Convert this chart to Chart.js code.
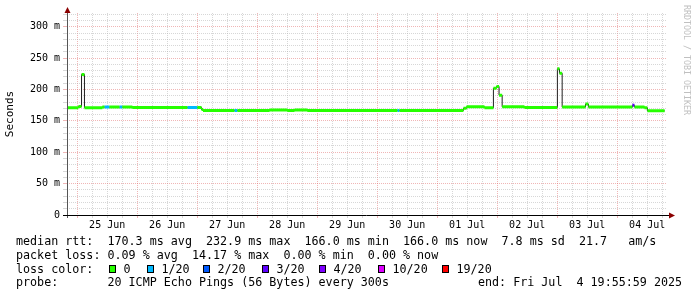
<!DOCTYPE html>
<html>
<head>
<meta charset="utf-8">
<script src="https://cdn.jsdelivr.net/npm/chart.js@4"></script>
<style>
  body { margin: 0; background: #fff; }
  canvas { display: block; }
</style>
</head>
<body>
<canvas id="pingChart" width="697" height="297"></canvas>
<script>
// بداية كل قطعة من الخط (شهر-يوم ساعة:دقيقة)
const segStart = [
    '06-24 19:56', '06-25 00:30', '06-25 01:45', '06-25 02:55', '06-25 10:05',
    '06-25 10:55', '06-25 12:55', '06-25 16:55', '06-25 18:05', '06-25 22:05',
    '06-26 20:05', '06-27 00:05', '06-27 01:45', '06-27 02:20', '06-27 14:55',
    '06-27 16:05', '06-28 04:55', '06-28 12:05', '06-28 14:55', '06-28 20:05',
    '06-30 08:05', '06-30 08:55', '07-01 10:30', '07-01 11:45', '07-01 18:55',
    '07-01 22:30', '07-01 23:45', '07-02 00:45', '07-02 02:00', '07-02 10:55',
    '07-03 00:05', '07-03 00:55', '07-03 02:00', '07-03 11:20', '07-03 12:30',
    '07-04 06:05', '07-04 06:55', '07-04 10:55', '07-04 12:05'
];
const segEnd = '07-04 19:00';

// الوسيط بالميلي ثانية
const medianMs = [
    171, 173, 224, 171, 172,
    172, 172, 172, 172, 171.5,
    171.5, 171.5, 168, 166.5, 166.5,
    166.5, 167.5, 166.5, 167.5, 166.5,
    166.5, 166.5, 170, 172.5, 171,
    202, 205, 191, 172.5, 171.5,
    233, 226, 172, 177, 172,
    175, 172, 171, 166
];

// عدد الحزم المفقودة من 20
const lostPings = [
    0, 0, 0, 0, 0,
    1, 0, 1, 0, 0,
    1, 0, 0, 0, 1,
    0, 0, 0, 0, 0,
    1, 0, 0, 0, 0,
    0, 0, 0, 0, 0,
    0, 0, 0, 0, 0,
    3, 0, 0, 0
];

const lossSteps = [0, 1, 2, 3, 4, 10, 19];
const lossLabels = ['0', '1/20', '2/20', '3/20', '4/20', '10/20', '19/20'];
const lossColors = ['#26ff00', '#00b8ff', '#0059ff', '#5e00ff', '#7e00ff', '#dd00ff', '#ff0000'];

const dayLabels = ['25 Jun', '26 Jun', '27 Jun', '28 Jun', '29 Jun', '30 Jun', '01 Jul', '02 Jul', '03 Jul', '04 Jul'];
const rangeStart = '06-24 19:56';
const rangeEnd = '07-04 19:56';
const yMaxMs = 322;

const legendLines = [
    'median rtt:  170.3 ms avg  232.9 ms max  166.0 ms min  166.0 ms now  7.8 ms sd  21.7   am/s',
    'packet loss: 0.09 % avg  14.17 % max  0.00 % min  0.00 % now'
];
const probeText = 'probe:       20 ICMP Echo Pings (56 Bytes) every 300s';
const endText = 'end: Fri Jul  4 19:55:59 2025';

const MONO = '"DejaVu Sans Mono", monospace';

// تحويل التاريخ إلى ساعات منذ منتصف ليل 25 يونيو
function toHours(s) {
    const [md, hm] = s.split(' ');
    const [mo, d] = md.split('-').map(Number);
    const [h, m] = hm.split(':').map(Number);
    const day = mo === 6 ? d - 25 : d + 5;
    return day * 24 + h + m / 60;
}

function bucketOf(lost) {
    let b = 0;
    lossSteps.forEach((s, i) => { if (lost >= s) b = i; });
    return b;
}

// الخط الداكن المتدرج
const stepPoints = segStart.map((t, i) => ({ x: toHours(t), y: medianMs[i] }));
stepPoints.push({ x: toHours(segEnd), y: medianMs[medianMs.length - 1] });

// قطع أفقية ملونة حسب الفقد
const colorSets = lossColors.map(() => []);
segStart.forEach((t, i) => {
    const x0 = toHours(t);
    const x1 = i + 1 < segStart.length ? toHours(segStart[i + 1]) : toHours(segEnd);
    const set = colorSets[bucketOf(lostPings[i])];
    set.push({ x: x0, y: medianMs[i] }, { x: x1, y: medianMs[i] }, { x: x1, y: null });
});

const datasets = [{
    data: stepPoints,
    borderColor: '#202020',
    borderWidth: 1,
    stepped: 'before',
    pointRadius: 0,
    order: 5
}];
colorSets.forEach((set, i) => {
    datasets.push({
        data: set,
        borderColor: lossColors[i],
        borderWidth: 3,
        borderCapStyle: 'butt',
        pointRadius: 0,
        spanGaps: false,
        order: 1
    });
});

const GRID_MINOR = 'rgba(175,175,175,0.5)';
const GRID_MAJOR = 'rgba(225,110,110,0.5)';

// رسم المحاور والنصوص
const decorPlugin = {
    id: 'decor',
    afterDraw(chart) {
        const ctx = chart.ctx;
        const a = chart.chartArea;
        ctx.save();
        // المحاور
        ctx.lineWidth = 1;
        ctx.strokeStyle = '#555';
        ctx.beginPath();
        ctx.moveTo(a.left + 0.5, 11);
        ctx.lineTo(a.left + 0.5, a.bottom + 3);
        ctx.stroke();
        ctx.strokeStyle = '#000';
        ctx.beginPath();
        ctx.moveTo(a.left - 4, a.bottom + 0.5);
        ctx.lineTo(a.right + 3, a.bottom + 0.5);
        ctx.stroke();
        ctx.fillStyle = '#8b0000';
        ctx.beginPath();
        ctx.moveTo(a.left + 0.5, 7);
        ctx.lineTo(a.left - 2.5, 13);
        ctx.lineTo(a.left + 3.5, 13);
        ctx.closePath();
        ctx.fill();
        ctx.beginPath();
        ctx.moveTo(a.right + 8, a.bottom + 0.5);
        ctx.lineTo(a.right + 2, a.bottom - 2.5);
        ctx.lineTo(a.right + 2, a.bottom + 3.5);
        ctx.closePath();
        ctx.fill();

        // عنوان المحور
        ctx.fillStyle = '#000';
        ctx.font = '11px ' + MONO;
        ctx.textAlign = 'center';
        ctx.textBaseline = 'middle';
        ctx.save();
        ctx.translate(10, 114);
        ctx.rotate(-Math.PI / 2);
        ctx.fillText('Seconds', 0, 0);
        ctx.restore();

        // العلامة المائية
        ctx.save();
        ctx.fillStyle = '#c0c0c0';
        ctx.font = '8.3px ' + MONO;
        ctx.textAlign = 'left';
        ctx.translate(686, 5);
        ctx.rotate(Math.PI / 2);
        ctx.fillText('RRDTOOL / TOBI OETIKER', 0, 0);
        ctx.restore();

        // وسيلة الإيضاح
        ctx.font = '11.7px ' + MONO;
        ctx.textAlign = 'left';
        ctx.fillStyle = '#000';
        ctx.fillText(legendLines[0], 16, 241.5);
        ctx.fillText(legendLines[1], 16, 255.5);
        ctx.fillText('loss color:', 16, 269.5);
        const boxX = [109, 147, 203, 262, 319, 378, 442];
        lossColors.forEach((c, i) => {
            ctx.fillStyle = c;
            ctx.fillRect(boxX[i], 265, 7, 8);
            ctx.strokeStyle = '#000';
            ctx.strokeRect(boxX[i] + 0.5, 265.5, 6, 7);
            ctx.fillStyle = '#000';
            ctx.fillText(lossLabels[i], boxX[i] + 14.5, 269.5);
        });
        ctx.fillText(probeText, 16, 283);
        ctx.fillText(endText, 478, 283);
        ctx.restore();
    }
};

const ctx = document.getElementById('pingChart').getContext('2d');
new Chart(ctx, {
    type: 'line',
    data: { datasets: datasets },
    options: {
        responsive: false,
        animation: false,
        devicePixelRatio: 1,
        layout: { padding: { top: 13, right: 30, left: 0, bottom: 0 } },
        plugins: { legend: { display: false }, tooltip: { enabled: false } },
        scales: {
            x: {
                type: 'linear',
                min: toHours(rangeStart),
                max: toHours(rangeEnd),
                afterBuildTicks: scale => {
                    const t = [];
                    for (let h = 0; h <= 234; h += 6) t.push({ value: h });
                    scale.ticks = t;
                },
                afterFit: scale => { scale.height = 82; },
                ticks: {
                    autoSkip: false,
                    maxRotation: 0,
                    padding: 1,
                    color: '#000',
                    font: { family: MONO, size: 10 },
                    callback: v => (v % 24 === 12 ? dayLabels[(v - 12) / 24] : '')
                },
                grid: {
                    color: c => (c.tick && c.tick.value % 24 === 0 ? GRID_MAJOR : GRID_MINOR),
                    lineWidth: 1,
                    tickLength: 3
                },
                border: { display: false, dash: [1, 1] }
            },
            y: {
                min: 0,
                max: yMaxMs,
                afterBuildTicks: scale => {
                    const t = [];
                    for (let v = 0; v <= 320; v += 10) t.push({ value: v });
                    scale.ticks = t;
                },
                afterFit: scale => { scale.width = 67; },
                ticks: {
                    autoSkip: false,
                    padding: 3,
                    color: '#000',
                    font: { family: MONO, size: 10 },
                    callback: v => (v % 50 !== 0 ? '' : v === 0 ? '0' : v + ' m')
                },
                grid: {
                    color: c => (c.tick && c.tick.value % 50 === 0 ? GRID_MAJOR : GRID_MINOR),
                    lineWidth: 1,
                    tickLength: 4
                },
                border: { display: false, dash: [1, 1] }
            }
        }
    },
    plugins: [decorPlugin]
});
</script>
</body>
</html>
